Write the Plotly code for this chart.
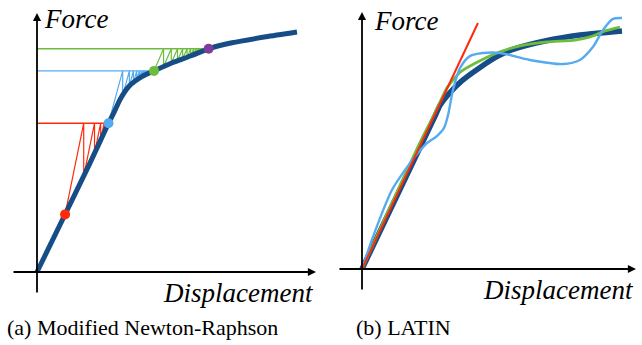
import numpy as np
import plotly.graph_objects as go

# ---------------- data (axis units) ----------------
# (a) Modified Newton-Raphson: reference force-displacement curve
curve_x = [0.0, 1.0, 2.0, 2.75, 2.95, 3.2, 3.55, 4.05, 4.5, 5.2, 5.9, 6.6, 7.5, 8.8, 10.0]
curve_y = [0.0, 2.22, 4.45, 6.2, 6.62, 7.2, 7.75, 8.15, 8.38, 8.72, 9.0, 9.3, 9.55, 9.8, 10.0]

# converged states (dots)
dot_x = [1.08, 2.75, 4.5, 6.6]
dot_y = [2.4, 6.2, 8.38, 9.3]
dot_colors = ["#ff2a0a", "#55aaf0", "#6cbd3e", "#7b3f9a"]

# load steps: iteration stiffness and number of iterations
step_colors = ["#ff2a0a", "#55aaf0", "#6cbd3e"]
step_stiffness = [5.3, 4.0, 2.5]
step_iterations = [7, 12, 12]

# (b) LATIN
ref_x = [0.0, 2.81, 3.0, 3.38, 3.85, 4.54, 5.19, 5.81, 7.12, 8.38, 10.0]
ref_y = [0.0, 6.37, 6.82, 7.35, 7.85, 8.4, 8.85, 9.15, 9.52, 9.75, 9.92]

green_x = [0.0, 1.08, 2.2, 2.69, 3.0, 3.27, 3.77, 4.54, 5.31, 6.08, 7.12, 8.19, 8.77, 9.35, 9.92]
green_y = [0.0, 2.58, 5.2, 6.25, 6.95, 7.55, 8.2, 8.68, 9.05, 9.3, 9.46, 9.54, 9.67, 9.92, 10.08]

lblue_x = [0.0, 0.38, 0.77, 1.15, 1.65, 2.15, 2.5, 2.88, 3.15, 3.31, 3.5, 3.77, 4.15, 4.65,
           5.31, 6.46, 7.73, 8.38, 8.88, 9.27, 9.65, 10.0]
lblue_y = [0.0, 1.21, 2.33, 3.29, 4.12, 4.83, 5.25, 5.54, 5.87, 6.42, 7.46, 8.37, 8.87, 9.0,
           9.0, 8.71, 8.54, 8.71, 9.25, 9.96, 10.42, 10.46]

tangent_x = [0.0, 4.46]
tangent_y = [0.0, 10.25]

# ---------------- layout geometry (pixels) ----------------
W, H = 642, 345
SX, SY = 26.0, 24.0          # pixels per axis unit
L_ORIG = (37, 272)
R_ORIG = (362, 269)
SPLIT = 320

def rng_x(x0px, x1px, orig):
    return [(x0px - orig[0]) / SX, (x1px - orig[0]) / SX]

def rng_y(orig):
    return [(orig[1] - H) / SY, orig[1] / SY]

DARK = "#174d86"

fig = go.Figure()

# ---- (a) zigzags ----
def mnr(x0, y0, F, k, n):
    xs, ys = [x0], [y0]
    x, y = x0, y0
    for _ in range(n):
        x = x + (F - y) / k
        xs.append(x); ys.append(F)
        y = float(np.interp(x, curve_x, curve_y))
        xs.append(x); ys.append(y)
    return xs, ys

for i in range(3):
    F = dot_y[i + 1]
    fig.add_trace(go.Scatter(x=[0, dot_x[i + 1]], y=[F, F], mode="lines",
                             line=dict(color=step_colors[i], width=1.4),
                             xaxis="x", yaxis="y", hoverinfo="skip"))
    zx, zy = mnr(dot_x[i], dot_y[i], F, step_stiffness[i], step_iterations[i])
    fig.add_trace(go.Scatter(x=zx, y=zy, mode="lines",
                             line=dict(color=step_colors[i], width=1.2),
                             xaxis="x", yaxis="y", hoverinfo="skip"))

fig.add_trace(go.Scatter(x=curve_x, y=curve_y, mode="lines",
                         line=dict(color=DARK, width=5, shape="spline", smoothing=0.6),
                         xaxis="x", yaxis="y"))
fig.add_trace(go.Scatter(x=dot_x, y=dot_y, mode="markers",
                         marker=dict(color=dot_colors, size=10),
                         xaxis="x", yaxis="y"))

# ---- (b) LATIN ----
fig.add_trace(go.Scatter(x=ref_x, y=ref_y, mode="lines",
                         line=dict(color=DARK, width=5.5, shape="spline", smoothing=0.6),
                         xaxis="x2", yaxis="y2"))
fig.add_trace(go.Scatter(x=green_x, y=green_y, mode="lines",
                         line=dict(color="#6cbd3e", width=2.8, shape="spline", smoothing=0.6),
                         xaxis="x2", yaxis="y2"))
fig.add_trace(go.Scatter(x=lblue_x, y=lblue_y, mode="lines",
                         line=dict(color="#55aaf0", width=2.4, shape="spline", smoothing=0.8),
                         xaxis="x2", yaxis="y2"))
fig.add_trace(go.Scatter(x=tangent_x, y=tangent_y, mode="lines",
                         line=dict(color="#ff2a0a", width=2),
                         xaxis="x2", yaxis="y2"))

# ---- axes arrows ----
def arrow(xr, yr, x0, y0, x1, y1):
    return dict(x=x1, y=y1, ax=x0, ay=y0, xref=xr, yref=yr, axref=xr, ayref=yr,
                text="", showarrow=True, arrowhead=2, arrowsize=0.9, arrowwidth=1.8,
                arrowcolor="black")

ann = [
    arrow("x", "y", (12 - L_ORIG[0]) / SX, 0, (316 - L_ORIG[0]) / SX, 0),
    arrow("x", "y", 0, (L_ORIG[1] - 294) / SY, 0, (L_ORIG[1] - 13) / SY),
    arrow("x2", "y2", (338 - R_ORIG[0]) / SX, 0, (636 - R_ORIG[0]) / SX, 0),
    arrow("x2", "y2", 0, (R_ORIG[1] - 291) / SY, 0, (R_ORIG[1] - 12) / SY),
]

lab_font = dict(family="Liberation Serif", size=27, color="black")
cap_font = dict(family="Liberation Serif", size=22, color="black")

def txt(text, xpx, ypx, xanchor, font, italic=True):
    t = f"<i>{text}</i>" if italic else text
    return dict(text=t, x=xpx / W, y=1 - ypx / H, xref="paper", yref="paper",
                xanchor=xanchor, yanchor="middle", showarrow=False, font=font)

ann += [
    txt("Force", 42, 19, "left", lab_font),
    txt("Displacement", 316, 293, "right", lab_font),
    txt("Force", 372, 21, "left", lab_font),
    txt("Displacement", 636, 290, "right", lab_font),
    txt("(a) Modified Newton-Raphson", 142, 327, "center", cap_font, italic=False),
    txt("(b) LATIN", 403, 327, "center", cap_font, italic=False),
]

hidden = dict(visible=False, showgrid=False, zeroline=False, fixedrange=True)
fig.update_layout(
    width=W, height=H, margin=dict(l=0, r=0, t=0, b=0),
    paper_bgcolor="white", plot_bgcolor="rgba(0,0,0,0)",
    showlegend=False,
    xaxis=dict(domain=[0, SPLIT / W], range=rng_x(0, SPLIT, L_ORIG), **hidden),
    yaxis=dict(domain=[0, 1], range=rng_y(L_ORIG), anchor="x", **hidden),
    xaxis2=dict(domain=[SPLIT / W, 1], range=rng_x(SPLIT, W, R_ORIG), anchor="y2", **hidden),
    yaxis2=dict(domain=[0, 1], range=rng_y(R_ORIG), anchor="x2", **hidden),
    annotations=ann,
)

fig.write_html("out.html")
